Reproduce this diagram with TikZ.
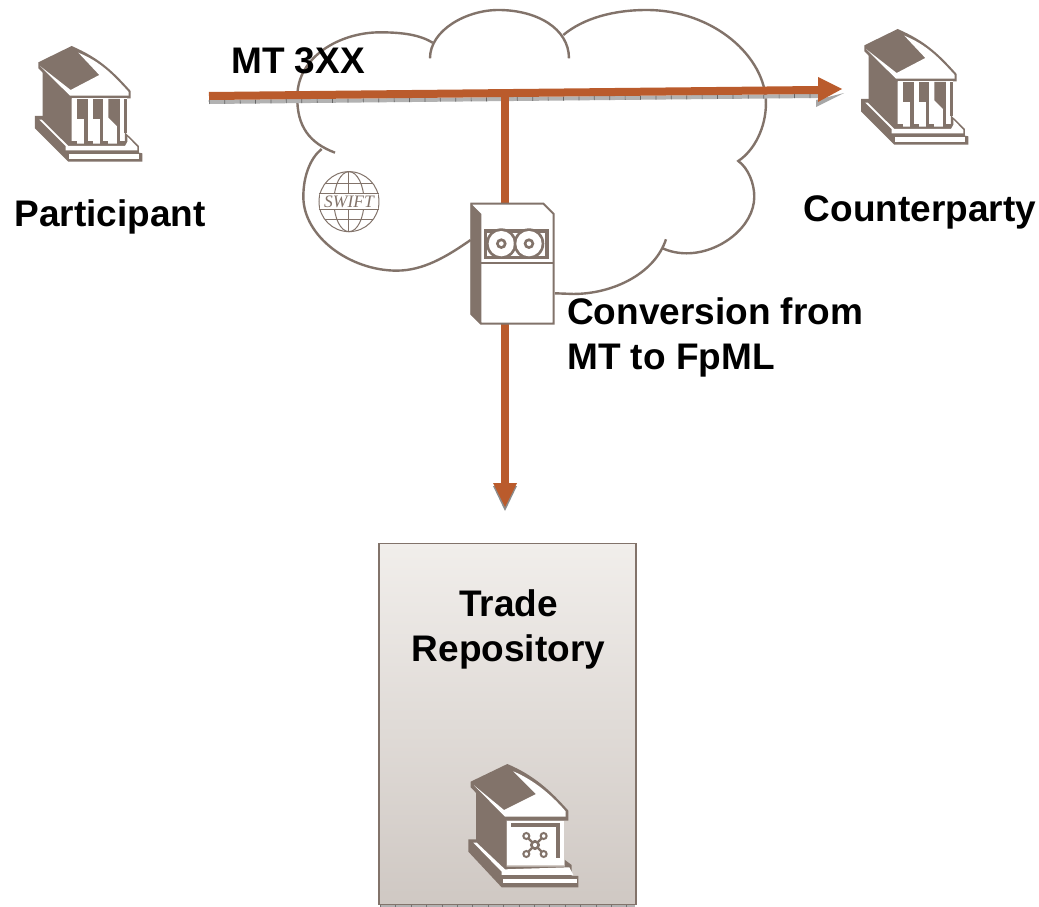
\documentclass[tikz,border=0pt]{standalone}
\usepackage{fontspec}
\setmainfont{Liberation Sans}
\newfontfamily\swiftfont{Liberation Serif}
\definecolor{taupe}{HTML}{82736A}
\definecolor{rust}{HTML}{BA5B2C}
\definecolor{boxtop}{HTML}{F1EEEB}
\definecolor{boxbot}{HTML}{CFC8C3}
\tikzset{
  lbl/.style={font=\fontsize{37}{45}\selectfont\bfseries,text=black,inner sep=0pt,align=center},
  cloudline/.style={draw=taupe,line width=2.4pt,line cap=butt},
  flow/.style={draw=rust,line width=8pt},
  shade/.style={draw=black!30,line width=4pt},
  ticks/.style={draw=black!60,line width=4pt,dash pattern=on 0.7pt off 14.7pt},
  wire/.style={draw=taupe,line width=1pt},
  bankicon/.pic={
    \fill[taupe] (215,48)--(115,97)--(115,115)--(205,205)--(392,205)--(392,183)
      .. controls (340,125) and (300,85) .. cycle;
    \fill[white] (120,108)--(210,197)--(386,197)--(386,186)
      .. controls (335,130) and (300,95) .. (235,68)--(298,135)--(212,180)--cycle;
    \fill[taupe] (128,125)--(215,205)--(215,345)--(128,262)--cycle;
    \fill[white] (215,205) rectangle (382,345);
    \fill[taupe] (230,207) rectangle (265,267);
    \fill[taupe] (278,207) rectangle (310,267);
    \fill[taupe] (325,207)--(360,207)--(360,297)--(325,262)--cycle;
    \fill[taupe] (372,207) rectangle (382,310);
    \fill[taupe] (253,267) rectangle (265,335);
    \fill[taupe] (300,267) rectangle (310,335);
    \fill[taupe] (350,285) rectangle (360,335);
    \fill[taupe] (205,333) rectangle (230,341);
    \fill[taupe] (253,333) rectangle (278,341);
    \fill[taupe] (300,333) rectangle (325,341);
    \fill[taupe] (350,333) rectangle (375,341);
    \fill[taupe] (105,258)--(130,258)--(212,341)--(375,341)--(375,307)--(417,348)--(417,368)--(427,370)--(427,395)--(205,395)--(105,295)--cycle;
    \fill[white] (118,269)--(197,348)--(197,361)--(412,361)--(412,351)--(382,320)--(382,336)--(375,348)--(205,348)--(125,269)--cycle;
    \fill[white] (208,372) rectangle (418,386);
  }
}
\begin{document}
\begin{tikzpicture}[x=1pt,y=-1pt]
\useasboundingbox (0,0) rectangle (1039,907);
\fill[white] (0,0) rectangle (1039,907);
% cloud
\begin{scope}[shift={(280,0)},x=0.3333pt,y=-0.3333pt]
\draw[cloudline] (165,458) .. controls (90,430) and (50,380) .. (52,290)
  .. controls (52,170) and (180,97) .. (300,97) .. controls (370,97) and (420,105) .. (458,128);
\draw[cloudline] (450,175) .. controls (450,90) and (560,30) .. (655,30)
  .. controls (770,30) and (867,85) .. (867,175);
\draw[cloudline] (850,105) .. controls (910,55) and (1000,30) .. (1100,30)
  .. controls (1300,30) and (1458,170) .. (1458,310) .. controls (1458,380) and (1425,450) .. (1375,483)
  .. controls (1405,505) and (1423,550) .. (1423,590) .. controls (1423,680) and (1320,760) .. (1220,760)
  .. controls (1195,760) and (1170,755) .. (1148,745);
\draw[cloudline] (1158,718) .. controls (1125,820) and (1000,882) .. (880,882) -- (825,880);
\draw[cloudline] (572,720) .. controls (500,770) and (430,812) .. (350,812)
  .. controls (210,812) and (70,710) .. (70,590) .. controls (70,530) and (90,475) .. (125,447);
\end{scope}
% swift logo
\begin{scope}[shift={(280,0)},x=0.3333pt,y=-0.3333pt]
\draw[wire] (207,605) circle (90);
\draw[wire] (207,605) ellipse (45 and 90);
\draw[wire] (207,515)--(207,580) (207,630)--(207,695);
\draw[wire] (135,550)--(279,550) (117,580)--(297,580) (117,630)--(297,630) (135,660)--(279,660);
\fill[white] (119,582) rectangle (295,628);
\node[text=taupe,inner sep=0pt,font=\swiftfont\itshape\fontsize{17.5}{18}\selectfont] (swift) at (207,605) {SWIFT};
\end{scope}
% connectors
\coordinate (hstart) at (209,96);
\coordinate (hend) at (818,90);
\coordinate (tip) at (842,89);
\coordinate (junction) at (505,93);
\coordinate (vend) at (505,484);
\coordinate (vtip) at (505,507);
% shadows
\draw[shade] ([yshift=-6pt]hstart) -- ([yshift=-6pt]hend);
\draw[ticks] ([yshift=-6pt]hstart) -- ([yshift=-6pt]hend);
\fill[black!35] (816,100)--(844,93)--(816,107)--cycle;
\fill[black!45] (493,486)--(505,511)--(517,486)--cycle;
\draw[flow] (junction) -- (vend);
\draw[flow] (hstart) -- (hend);
\fill[rust] (818,77)--(tip)--(818,102)--cycle;
\fill[rust] (493,483)--(517,483)--(vtip)--cycle;
% server
\begin{scope}[shift={(280,0)},x=0.3333pt,y=-0.3333pt]
\path[fill=white,draw=taupe,line width=2pt] (574,611)--(790,611)--(821,642)--(821,971)--(603,971)--(574,942)--cycle;
\fill[taupe] (572,610)--(604,642)--(604,973)--(572,943)--cycle;
\fill[white] (583,619)--(606,640)--(606,620)--cycle;
\fill[taupe] (604,785) rectangle (822,792);
\fill[taupe] (612,688) rectangle (806,778);
\fill[white] (622,700) rectangle (795,768);
\foreach \rx in {664,747}{
  \fill[taupe] (\rx,731) circle (46);
  \fill[white] (\rx,731) circle (38);
  \fill[taupe] (\rx,731) circle (16);
  \fill[white] (\rx,731) circle (7);
}
\end{scope}
% trade repository
\coordinate (boxfootL) at (380,906);
\coordinate (boxfootR) at (635,906);
\draw[draw=black!30,line width=2pt] (boxfootL) -- (boxfootR);
\draw[draw=black!55,line width=2pt,dash pattern=on 0.7pt off 14.7pt] (boxfootL) -- (boxfootR);
\node[draw=taupe,line width=1.8pt,top color=boxtop,bottom color=boxbot,minimum width=257pt,minimum height=361pt,inner sep=0pt,anchor=north west] (tr) at (378,542.5) {};
% vault bank
\begin{scope}[shift={(450,750)},x=0.3333pt,y=-0.3333pt]
\fill[taupe] (172,42)--(62,95)--(62,112)--(160,212)--(355,212)--(355,182) .. controls (300,120) and (250,75) .. cycle;
\fill[white] (72,106)--(165,200)--(347,200)--(347,184) .. controls (300,130) and (250,90) .. (190,64)--(258,132)--(162,180)--cycle;
\fill[taupe] (78,125)--(170,212)--(170,372)--(78,280)--cycle;
\fill[white] (170,212) rectangle (342,345);
\fill[taupe] (183,218) rectangle (330,230);
\fill[taupe] (318,218) rectangle (330,325);
\fill[taupe] (55,268)--(80,268)--(165,350)--(345,350)--(345,330)--(365,345)--(365,378)--(385,378)--(385,412)--(155,412)--(55,305)--cycle;
\fill[white] (70,278)--(155,365)--(155,375)--(370,375)--(358,352)--(165,358)--(80,278)--cycle;
\fill[white] (160,388) rectangle (380,400);
\draw[taupe,line width=2.2pt] (222,252)--(288,318) (288,252)--(222,318);
\foreach \cx/\cy in {229/258,281/258,229/312,281/312}{
  \fill[white] (\cx,\cy) circle (9);
  \draw[taupe,line width=2pt] (\cx,\cy) circle (9);
}
\fill[white] (255,285) circle (11);
\draw[taupe,line width=2.6pt] (255,285) circle (11);
\end{scope}
% icons
\path (0,30) pic[scale=0.3333] (bankA) {bankicon};
\path (826,13) pic[scale=0.3333] (bankB) {bankicon};
% labels
\node[lbl,anchor=base west] (mt) at (231,74) {MT 3XX};
\node[lbl,anchor=base] (part) at (110,226) {Participant};
\node[lbl,anchor=base] (cpty) at (920,221) {Counterparty};
\node[lbl,align=left,anchor=north west] (conv) at (567,297) {Conversion from\\MT to FpML};
\node[lbl] (trl) at (508.5,629) {Trade\\Repository};
\end{tikzpicture}
\end{document}
